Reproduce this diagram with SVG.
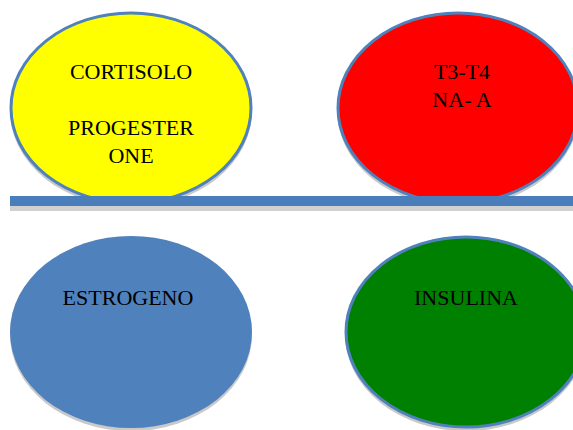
<svg xmlns="http://www.w3.org/2000/svg" width="573" height="430" viewBox="0 0 573 430">
<style>
.shadow{fill:#c9c9c9;}
.node{stroke:#4f81bd;stroke-width:3;}
.lbl{font-family:"Liberation Serif","DejaVu Serif",serif;font-size:22px;fill:#000;text-anchor:middle;}
</style>
<rect width="573" height="430" fill="#fff"/>
<g id="cortisolo">
<ellipse class="shadow" cx="131" cy="111" rx="121" ry="96"/>
<ellipse class="node" cx="131" cy="108" rx="120" ry="95" fill="#ffff00"/>
<text class="lbl" x="131" y="79">CORTISOLO</text>
<text class="lbl" x="131" y="135">PROGESTER</text>
<text class="lbl" x="131" y="163">ONE</text>
</g>
<g id="t3t4">
<ellipse class="shadow" cx="458" cy="111" rx="121" ry="96"/>
<ellipse class="node" cx="458" cy="108" rx="120" ry="95" fill="#ff0000"/>
<text class="lbl" x="462" y="79">T3-T4</text>
<text class="lbl" x="462" y="107">NA- A</text>
</g>
<g id="connectors">
<rect x="10" y="205" width="563" height="6" fill="#d0d0d0"/>
<rect x="10" y="196" width="563" height="10" fill="#4a7ebb"/>
</g>
<g id="estrogeno">
<ellipse class="shadow" cx="131" cy="335" rx="121" ry="96"/>
<ellipse cx="131" cy="332" rx="121" ry="96" fill="#4f81bd"/>
<text class="lbl" x="128" y="305">ESTROGENO</text>
</g>
<g id="insulina">
<ellipse class="shadow" cx="466" cy="335" rx="121" ry="96"/>
<ellipse class="node" cx="466" cy="332" rx="120" ry="95" fill="#008000"/>
<text class="lbl" x="466" y="305">INSULINA</text>
</g>
</svg>
